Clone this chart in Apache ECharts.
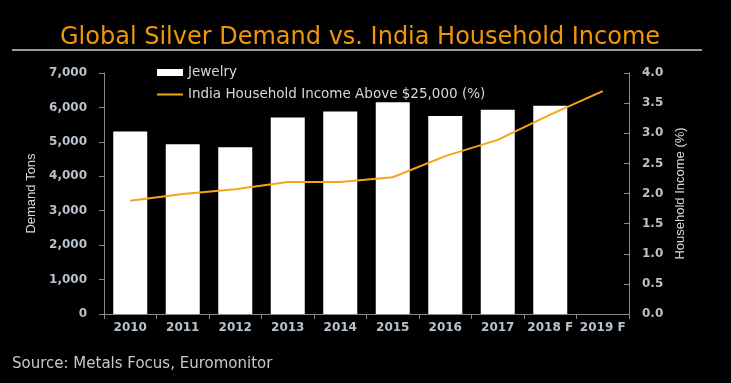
<!DOCTYPE html>
<html><head><meta charset="utf-8">
<script src="https://cdn.jsdelivr.net/npm/echarts@6/dist/echarts.min.js"></script>
<style>html,body{margin:0;padding:0;background:#000;}#c{width:731px;height:383px;}</style>
</head><body><div id="c"></div>
<script>
const categories = ['2010','2011','2012','2013','2014','2015','2016','2017','2018 F','2019 F'];
const jewelry = [5300, 4930, 4840, 5710, 5880, 6150, 5750, 5930, 6050, null];
const incomePct = [1.88, 1.99, 2.07, 2.19, 2.19, 2.27, 2.62, 2.89, 3.31, 3.70];
const leftTicks = [0, 1000, 2000, 3000, 4000, 5000, 6000, 7000];
const rightTicks = [0, 0.5, 1, 1.5, 2, 2.5, 3, 3.5, 4];

const chart = echarts.init(document.getElementById('c'));
const axisLabelColor = '#b8c2cc';
chart.setOption({
  backgroundColor: '#000',
  animation: false,
  title: {
    text: 'Global Silver Demand vs. India Household Income',
    left: 55, top: 21,
    textStyle: {color: '#f0960a', fontSize: 24, fontWeight: 'normal', fontFamily: 'DejaVu Sans'}
  },
  graphic: [
    {type: 'line', shape: {x1: 12, y1: 50, x2: 702, y2: 50}, style: {stroke: '#9a9a9a', lineWidth: 2}},
    {type: 'text', left: 12, top: 357, style: {text: 'Source: Metals Focus, Euromonitor', fill: '#c8c8c8', font: '15px "DejaVu Sans"'}}
  ],
  legend: {
    orient: 'vertical', left: 152, top: 60, itemGap: 7, itemWidth: 26, itemHeight: 7,
    textStyle: {color: '#d8d8d8', fontSize: 13.5, lineHeight: 15, fontFamily: 'DejaVu Sans'},
    data: [{name: 'Jewelry', icon: 'rect'}, {name: 'India Household Income Above $25,000 (%)', icon: 'path://M0,4 L26,4 L26,6 L0,6 Z'}]
  },
  grid: {left: 104, right: 102, top: 73, bottom: 69},
  xAxis: {
    type: 'category', data: categories,
    axisLine: {lineStyle: {color: '#888'}},
    axisTick: {show: true, alignWithLabel: false, lineStyle: {color: '#888'}},
    axisLabel: {color: axisLabelColor, fontSize: 12, fontWeight: 'bold', fontFamily: 'DejaVu Sans', margin: 8, interval: 0}
  },
  yAxis: [
    {
      type: 'value', min: 0, max: 7000, interval: 1000,
      name: 'Demand Tons', nameLocation: 'middle', nameGap: 66, nameRotate: 90,
      nameTextStyle: {color: '#d8d8d8', fontSize: 13, fontFamily: 'Liberation Sans'},
      axisLine: {show: true, lineStyle: {color: '#888'}},
      axisTick: {show: true, lineStyle: {color: '#888'}},
      splitLine: {show: false},
      axisLabel: {color: axisLabelColor, fontSize: 12, fontWeight: 'bold', fontFamily: 'DejaVu Sans', margin: 17,
        formatter: v => v.toLocaleString('en-US')}
    },
    {
      type: 'value', min: 0, max: 4, interval: 0.5, position: 'right',
      name: 'Household Income (%)', nameLocation: 'middle', nameGap: 44, nameRotate: 90,
      nameTextStyle: {color: '#d8d8d8', fontSize: 13, fontFamily: 'Liberation Sans'},
      axisLine: {show: true, lineStyle: {color: '#888'}},
      axisTick: {show: true, inside: true, lineStyle: {color: '#888'}},
      splitLine: {show: false},
      axisLabel: {color: axisLabelColor, fontSize: 12, fontWeight: 'bold', fontFamily: 'DejaVu Sans', margin: 13,
        formatter: v => v.toFixed(1)}
    }
  ],
  series: [
    {name: 'Jewelry', type: 'bar', data: jewelry, barWidth: 34, itemStyle: {color: '#ffffff'}},
    {name: 'India Household Income Above $25,000 (%)', type: 'line', yAxisIndex: 1, data: incomePct,
      symbol: 'none', lineStyle: {color: '#f5a31a', width: 2}, itemStyle: {color: '#f5a31a'}}
  ]
});
</script></body></html>
